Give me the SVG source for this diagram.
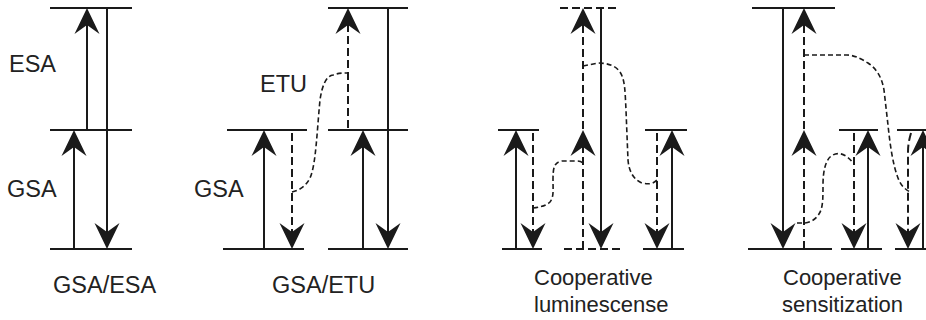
<svg xmlns="http://www.w3.org/2000/svg" xmlns:xlink="http://www.w3.org/1999/xlink" width="926" height="320" viewBox="0 0 926 320">
<style>
.lv{stroke:#1a1a1a;stroke-width:2;fill:none}
.lvd{stroke:#1a1a1a;stroke-width:2;fill:none;stroke-dasharray:8 4}
.ar{stroke:#1a1a1a;stroke-width:2;fill:none}
.ad{stroke:#1a1a1a;stroke-width:2;fill:none;stroke-dasharray:8 4}
.cv{stroke:#1a1a1a;stroke-width:1.6;fill:none;stroke-dasharray:5 3}
.ah{fill:#1a1a1a}
text{font-family:"Liberation Sans",Arial,sans-serif;font-size:22px;fill:#222}
text.big{font-size:23.5px}
</style>
<defs>
<path id="up" class="ah" d="M0,0 L-12.5,26 L0,17 L12.5,26 Z"/>
<path id="dn" class="ah" d="M0,0 L-12.5,-26 L0,-17 L12.5,-26 Z"/>
</defs>

<g id="panel-gsa-esa">
<line class="lv" x1="50" y1="8" x2="132" y2="8"/>
<line class="lv" x1="50" y1="130" x2="132" y2="130"/>
<line class="lv" x1="50" y1="249" x2="132" y2="249"/>
<text class="big" x="9" y="72">ESA</text>
<text class="big" x="7" y="197">GSA</text>
<text class="big" x="53" y="293">GSA/ESA</text>
</g>

<g id="panel-gsa-etu">
<line class="lv" x1="227" y1="130" x2="307" y2="130"/>
<line class="lv" x1="223" y1="249" x2="304" y2="249"/>
<line class="lv" x1="328" y1="8" x2="408" y2="8"/>
<line class="lv" x1="328" y1="130" x2="408" y2="130"/>
<line class="lv" x1="328" y1="249" x2="408" y2="249"/>
<text class="big" x="194" y="197">GSA</text>
<text class="big" x="260" y="92">ETU</text>
<text class="big" x="272" y="293">GSA/ETU</text>
</g>

<g id="panel-coop-lum">
<line class="lv" x1="498" y1="130" x2="539" y2="130"/>
<line class="lv" x1="502" y1="249" x2="542" y2="249"/>
<line class="lvd" x1="560" y1="8" x2="618" y2="8"/>
<line class="lvd" x1="564" y1="249" x2="622" y2="249"/>
<line class="lv" x1="645" y1="130" x2="687" y2="130"/>
<line class="lv" x1="643" y1="249" x2="684" y2="249"/>
<text x="534" y="285">Cooperative</text>
<text x="534" y="312">luminescense</text>
</g>

<g id="panel-coop-sens">
<line class="lv" x1="752" y1="8" x2="835" y2="8"/>
<line class="lv" x1="748" y1="249" x2="832" y2="249"/>
<line class="lv" x1="839" y1="130" x2="878" y2="130"/>
<line class="lv" x1="841" y1="249" x2="882" y2="249"/>
<line class="lv" x1="897" y1="130" x2="926" y2="130"/>
<line class="lv" x1="895" y1="249" x2="926" y2="249"/>
<text x="783" y="285">Cooperative</text>
<text x="782" y="312">sensitization</text>
</g>

<g id="connectors">
<!-- panel 1 -->
<line class="ar" x1="87" y1="130" x2="87" y2="20"/><use xlink:href="#up" x="87" y="8"/>
<line class="ar" x1="74" y1="249" x2="74" y2="142"/><use xlink:href="#up" x="74" y="130"/>
<line class="ar" x1="107" y1="8" x2="107" y2="237"/><use xlink:href="#dn" x="107" y="249"/>
<!-- panel 2 -->
<line class="ar" x1="264" y1="249" x2="264" y2="142"/><use xlink:href="#up" x="264" y="130"/>
<line class="ad" x1="292" y1="133" x2="292" y2="235"/><use xlink:href="#dn" x="292" y="249"/>
<line class="ar" x1="363" y1="249" x2="363" y2="142"/><use xlink:href="#up" x="363" y="130"/>
<line class="ad" x1="348" y1="128" x2="348" y2="22"/><use xlink:href="#up" x="348" y="8"/>
<line class="ar" x1="388" y1="8" x2="388" y2="237"/><use xlink:href="#dn" x="388" y="249"/>
<path class="cv" d="M292,192 C300,190 306,186 310,178 C316,165 317,130 320,100 C322,86 326,76 333,75 C338,73 343,73 348,73"/>
<!-- panel 3 -->
<line class="ar" x1="516" y1="249" x2="516" y2="142"/><use xlink:href="#up" x="516" y="130"/>
<line class="ad" x1="533" y1="133" x2="533" y2="235"/><use xlink:href="#dn" x="533" y="249"/>
<line class="ad" x1="583" y1="249" x2="583" y2="22"/><use xlink:href="#up" x="583" y="130"/><use xlink:href="#up" x="583" y="8"/>
<line class="ar" x1="601" y1="8" x2="601" y2="237"/><use xlink:href="#dn" x="601" y="249"/>
<line class="ar" x1="672" y1="249" x2="672" y2="142"/><use xlink:href="#up" x="672" y="130"/>
<line class="ad" x1="657" y1="133" x2="657" y2="235"/><use xlink:href="#dn" x="657" y="249"/>
<path class="cv" d="M533,208 C540,207 546,206 550,202 C554,197 553,190 553,180 C553,168 554,162 562,161 L577,161 C580,161 582,162 583,163"/>
<path class="cv" d="M583,66 L598,63 C608,63 616,66 620,72 C625,80 625,90 626,110 L628,160 C629,172 634,180 642,183 C650,185 654,183 657,180"/>
<!-- panel 4 -->
<line class="ar" x1="783" y1="8" x2="783" y2="237"/><use xlink:href="#dn" x="783" y="249"/>
<line class="ad" x1="804" y1="249" x2="804" y2="22"/><use xlink:href="#up" x="804" y="130"/><use xlink:href="#up" x="804" y="8"/>
<line class="ad" x1="854" y1="133" x2="854" y2="235"/><use xlink:href="#dn" x="854" y="249"/>
<line class="ar" x1="868" y1="249" x2="868" y2="142"/><use xlink:href="#up" x="868" y="130"/>
<path class="ad" d="M911,133 C909,140 908,145 908,152 L908,235"/><use xlink:href="#dn" x="908" y="249"/>
<line class="ar" x1="923" y1="249" x2="923" y2="142"/><use xlink:href="#up" x="923" y="130"/>
<path class="cv" d="M797,223 L805,223 C812,222 818,218 821,210 C823,204 823,195 823,185 C823,170 826,158 833,155 C840,151 848,156 853,163"/>
<path class="cv" d="M804,55 L847,55 C853,55 860,58 868,63 C877,69 882,78 884,90 L888,125 C890,145 893,165 898,178 C901,186 905,189 910,192"/>
</g>
</svg>
